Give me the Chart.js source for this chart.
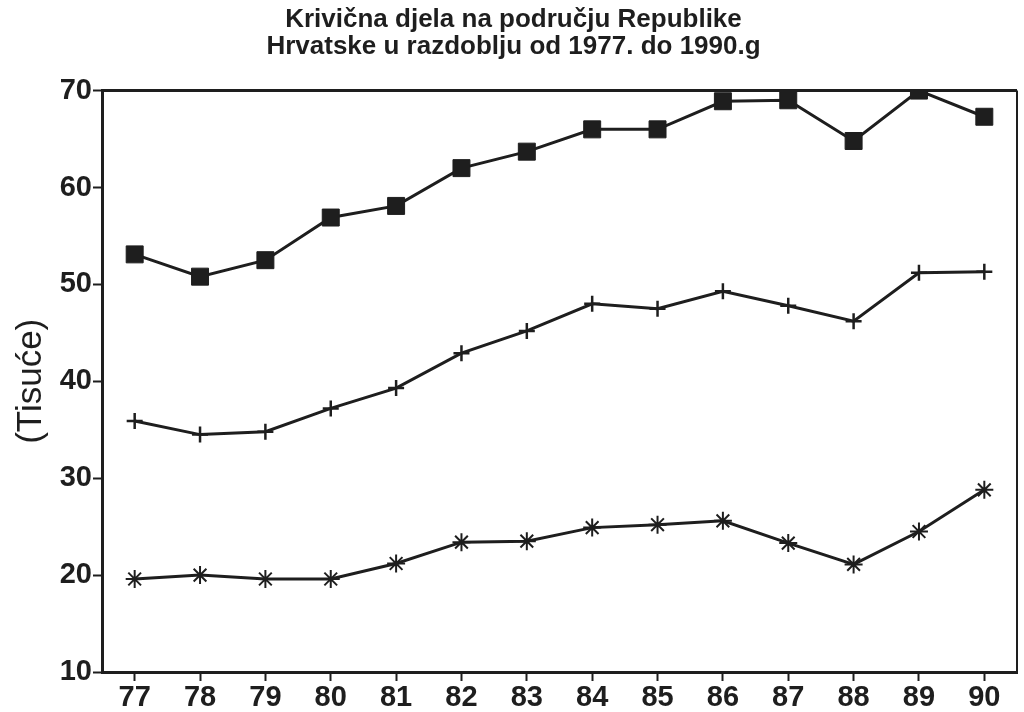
<!DOCTYPE html>
<html>
<head>
<meta charset="utf-8">
<script src="https://cdn.jsdelivr.net/npm/chart.js@4/dist/chart.umd.min.js"></script>
<style>
  html, body { margin: 0; padding: 0; background: #fff; }
  #wrap { width: 1024px; height: 712px; }
</style>
</head>
<body>
<div id="wrap"><canvas id="chartKrivicna"></canvas></div>
<script>
const godine = ['77', '78', '79', '80', '81', '82', '83', '84', '85', '86', '87', '88', '89', '90'];
const serijaKvadrat = [53.1, 50.8, 52.5, 56.9, 58.1, 62.0, 63.7, 66.0, 66.0, 68.9, 69.0, 64.8, 70.0, 67.3];
const serijaPlus = [35.9, 34.5, 34.8, 37.2, 39.3, 42.9, 45.2, 48.0, 47.5, 49.3, 47.8, 46.2, 51.2, 51.3];
const serijaZvjezdica = [19.6, 20.0, 19.6, 19.6, 21.2, 23.4, 23.5, 24.9, 25.2, 25.6, 23.3, 21.1, 24.5, 28.8];
const naslov = ['Krivična djela na području Republike', 'Hrvatske u razdoblju od 1977. do 1990.g'];

const boja = '#1e1e1e';

// okvir oko podrucja grafa (gornja i desna crta)
const okvir = {
  id: 'okvir',
  afterDraw(chart) {
    const a = chart.chartArea;
    const ctx = chart.ctx;
    ctx.save();
    ctx.strokeStyle = boja;
    ctx.lineWidth = 3;
    ctx.beginPath();
    ctx.moveTo(a.left, a.top);
    ctx.lineTo(a.right, a.top);
    ctx.stroke();
    ctx.lineWidth = 2;
    ctx.beginPath();
    ctx.moveTo(a.right, a.top);
    ctx.lineTo(a.right, a.bottom);
    ctx.stroke();
    ctx.restore();
  }
};

const ctx = document.getElementById('chartKrivicna').getContext('2d');
new Chart(ctx, {
  type: 'line',
  data: {
    labels: godine,
    datasets: [
      {
        data: serijaKvadrat,
        borderColor: boja,
        backgroundColor: boja,
        borderWidth: 3,
        pointStyle: 'rect',
        pointRadius: 12,
        pointBorderWidth: 1,
        tension: 0
      },
      {
        data: serijaPlus,
        borderColor: boja,
        backgroundColor: boja,
        borderWidth: 3,
        pointStyle: 'cross',
        pointRadius: 8,
        pointBorderWidth: 2.5,
        tension: 0
      },
      {
        data: serijaZvjezdica,
        borderColor: boja,
        backgroundColor: boja,
        borderWidth: 3,
        pointStyle: 'star',
        pointRadius: 9,
        pointBorderWidth: 2,
        tension: 0
      }
    ]
  },
  options: {
    responsive: true,
    maintainAspectRatio: false,
    animation: false,
    layout: { autoPadding: false, padding: { left: 10, right: 7, top: 0, bottom: 0 } },
    plugins: {
      legend: { display: false },
      tooltip: { enabled: false },
      title: {
        display: true,
        text: naslov,
        color: boja,
        font: { family: 'Liberation Sans, Arial, sans-serif', size: 26, weight: 'bold', lineHeight: 1.05 },
        padding: { top: 6, bottom: 30 }
      }
    },
    scales: {
      x: {
        offset: true,
        border: { display: true, color: boja, width: 3 },
        grid: { display: true, drawOnChartArea: false, drawTicks: true, tickLength: 9, tickColor: boja, tickWidth: 2 },
        ticks: {
          color: boja,
          padding: 0,
          maxRotation: 0,
          font: { family: 'Liberation Sans, Arial, sans-serif', size: 29, weight: 'bold' }
        },
        afterFit(scale) {
          scale.height = 40;
          scale.paddingLeft = 0;
          scale.paddingRight = 0;
        }
      },
      y: {
        min: 10,
        max: 70,
        border: { display: true, color: boja, width: 3 },
        grid: { display: true, drawOnChartArea: false, drawTicks: true, tickLength: 9, tickColor: boja, tickWidth: 2 },
        ticks: {
          stepSize: 10,
          color: boja,
          padding: 1,
          font: { family: 'Liberation Sans, Arial, sans-serif', size: 29, weight: 'bold' }
        },
        title: {
          display: true,
          text: '(Tisuće)',
          color: boja,
          font: { family: 'Liberation Sans, Arial, sans-serif', size: 35 },
          padding: { top: 0, bottom: 4 }
        },
        afterFit(scale) { scale.width = 92; }
      }
    }
  },
  plugins: [okvir]
});
</script>
</body>
</html>
